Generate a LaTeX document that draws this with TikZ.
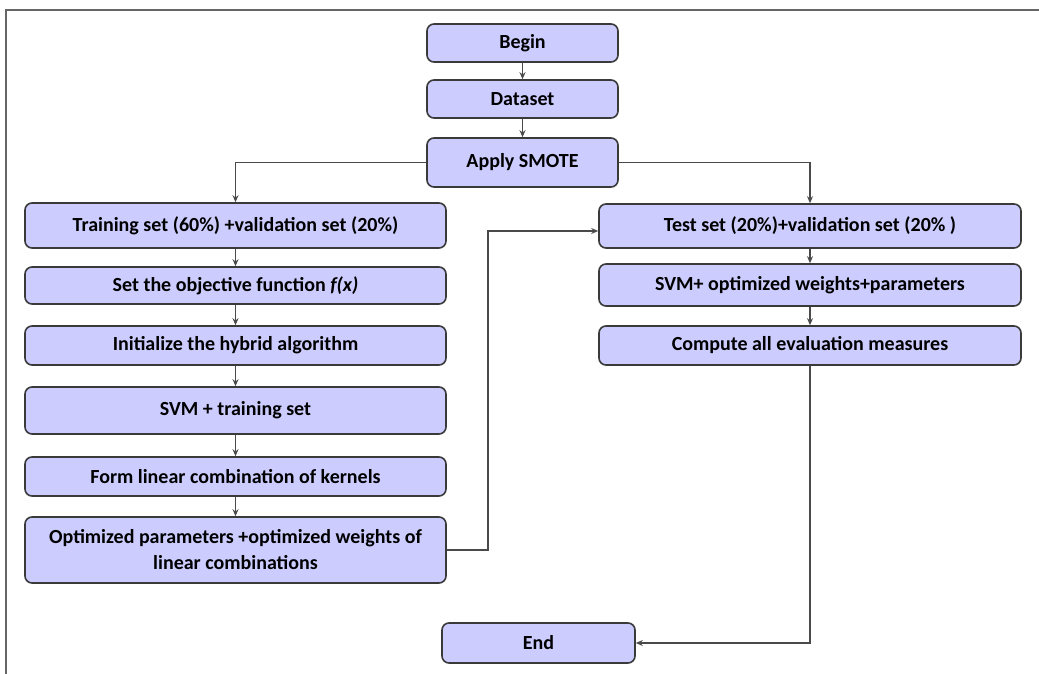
\documentclass[tikz,border=0pt]{standalone}
\usepackage{fontspec}
\setmainfont{Carlito}
\usetikzlibrary{arrows.meta}
\definecolor{boxfill}{HTML}{CCCCFF}
\definecolor{boxline}{HTML}{3A3A3A}
\definecolor{wire}{HTML}{4A4A4A}
\begin{document}
\begin{tikzpicture}[x=1pt,y=-1pt,
  box/.style={draw=boxline, line width=1.6pt, fill=boxfill, rounded corners=7pt,
    inner sep=0pt, align=center, font=\fontsize{20}{26}\selectfont\bfseries},
  wide/.style={box, minimum width=421pt},
  small/.style={box, minimum width=191pt},
  conn/.style={draw=wire, line width=1.5pt, -{Stealth[length=7pt,width=6pt]}}]
\useasboundingbox (0,0) rectangle (1039,674);
\draw[draw=gray!80!black, line width=1.8pt] (6,674) -- (6,10) -- (1039,10);
% left column
\node[small, minimum height=38pt] (begin) at (522.5,43) {Begin};
\node[small, minimum height=38pt] (data) at (522.5,99) {Dataset};
\node[small, minimum height=49pt] (smote) at (522.5,162.5) {Apply SMOTE};
\node[wide, minimum height=45pt] (train) at (235.5,225.5) {Training set (60\%) +validation set (20\%)};
\node[wide, minimum height=37pt] (obj) at (235.5,285.5) {Set the objective function \textit{f(x)}};
\node[wide, minimum height=39pt] (init) at (235.5,345.5) {Initialize the hybrid algorithm};
\node[wide, minimum height=47pt] (svmt) at (235.5,410.5) {SVM + training set};
\node[wide, minimum height=39pt] (form) at (235.5,476.5) {Form linear combination of kernels};
\node[wide, minimum height=66pt] (opt) at (235.5,550) {Optimized parameters +optimized weights of\\linear combinations};
% right column
\node[wide, minimum width=422pt, minimum height=44pt] (test) at (810,226) {Test set (20\%)+validation set (20\% )};
\node[wide, minimum width=422pt, minimum height=42pt] (svmo) at (810,285) {SVM+ optimized weights+parameters};
\node[wide, minimum width=422pt, minimum height=39pt] (comp) at (810,345.5) {Compute all evaluation measures};
\node[small, minimum width=193pt, minimum height=40pt] (end) at (538.5,643) {End};
% connectors
\draw[conn] (begin) -- (data);
\draw[conn] (data) -- (smote);
\draw[conn] (smote.west) -| (train.north);
\draw[conn] (smote.east) -| (test.north);
\draw[conn] (train) -- (obj);
\draw[conn] (obj) -- (init);
\draw[conn] (init) -- (svmt);
\draw[conn] (svmt) -- (form);
\draw[conn] (form) -- (opt);
\coordinate (c1) at (488,231);
\draw[conn] (opt.east) -| (c1) -- (c1 -| test.west);
\draw[conn] (test) -- (svmo);
\draw[conn] (svmo) -- (comp);
\draw[conn] (comp.south) |- (end.east);
\end{tikzpicture}
\end{document}
